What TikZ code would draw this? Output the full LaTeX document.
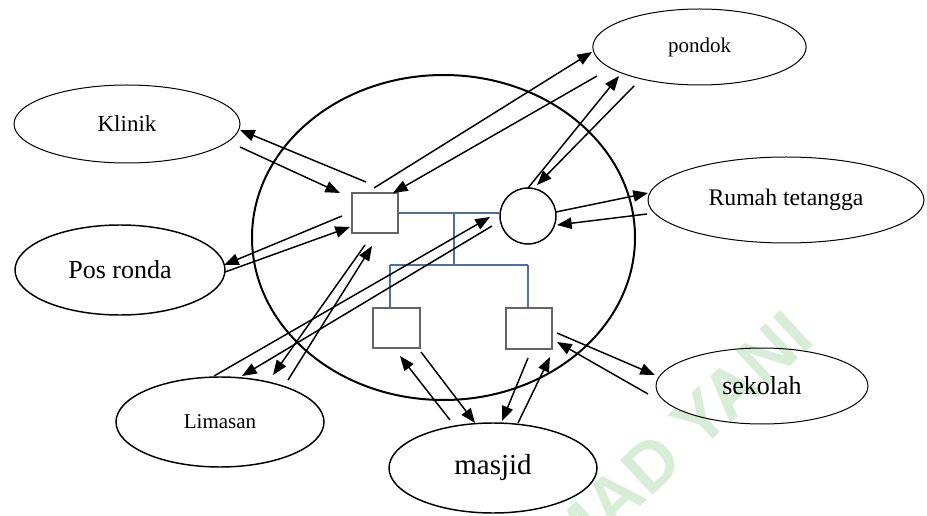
\documentclass[tikz,border=0pt]{standalone}
\usepackage{fontspec}
\setmainfont{Liberation Serif}
\newfontfamily\wmfont{Liberation Sans}
\usetikzlibrary{arrows.meta,calc,shapes.geometric}
\definecolor{linkblue}{RGB}{79,109,166}
\definecolor{boxgray}{RGB}{100,100,100}
\definecolor{wmgreen}{RGB}{214,237,214}
\begin{document}
\begin{tikzpicture}[x=0.75pt,y=-0.75pt,
  place/.style={draw,ellipse,inner sep=0pt,line width=0.75pt},
  placebold/.style={place,line width=1.1pt},
  person/.style={draw=boxgray,rectangle,inner sep=0pt,line width=1.1pt,minimum width=34.5pt,minimum height=30pt},
  arr/.style={line width=1.1pt,-{Triangle[length=11pt,width=8.5pt]}},
  link/.style={draw=linkblue,line width=0.8pt}
]
\useasboundingbox (0,0) rectangle (927,516);
\begin{scope}
\clip (0,0) rectangle (927,516);
\node[text=wmgreen,font=\wmfont\bfseries\fontsize{52}{52}\selectfont,rotate=43,inner sep=0pt] (wmark) at (677,440) {MAD YANI};
\end{scope}

% big household ellipse
\node[draw,ellipse,inner sep=0pt,line width=1.5pt,minimum width=287.25pt,minimum height=243.75pt] (home) at (443.5,237.5) {};

% outer places
\node[place,minimum width=169.5pt,minimum height=58.5pt,font=\fontsize{17.25}{20}\selectfont] (klinik) at (127,124) {Klinik};
\node[place,minimum width=160pt,minimum height=57pt,font=\fontsize{15.75}{18}\selectfont] (pondok) at (699.5,47) {pondok};
\node[place,minimum width=207pt,minimum height=64.5pt,font=\fontsize{17.8}{20}\selectfont] (rumah) at (786,200) {Rumah tetangga};
\node[placebold,minimum width=157.5pt,minimum height=67.5pt,font=\fontsize{19.5}{22}\selectfont] (pos) at (120,270) {Pos ronda};
\node[placebold,minimum width=156pt,minimum height=67.5pt,font=\fontsize{15.75}{18}\selectfont] (limasan) at (220,422) {Limasan};
\node[placebold,minimum width=156pt,minimum height=67.5pt,font=\fontsize{21.75}{24}\selectfont] (masjid) at (493,468) {masjid};
\node[place,minimum width=159pt,minimum height=57pt,font=\fontsize{19.5}{22}\selectfont] (sekolah) at (762,386) {sekolah};

% family members
\node[person] (sqA) at (375,213) {};
\node[draw,circle,inner sep=0pt,line width=1.1pt,minimum size=42pt] (circ) at (528,216) {};
\node[person,minimum width=35.25pt] (sqB) at (396.5,328) {};
\node[person,minimum height=30.75pt] (sqC) at (529,328.5) {};

% kinship lines
\coordinate (j1) at (454,213);
\coordinate (j2) at (454,265);
\coordinate (jl) at (390,265);
\coordinate (jr) at (528,265);
\draw[link] (sqA.east) -- (sqA.east -| circ.west);
\draw[link] (j1) -- (j2);
\draw[link] (jl) -- (jr);
\draw[link] (jl) -- (jl |- sqB.north);
\draw[link] (jr) -- (jr |- sqC.north);

% Klinik
\draw[arr] ($(sqA)+(-9,-31)$) -- ($(klinik)+(113,6)$);
\draw[arr] ($(klinik)+(113,23)$) -- ($(sqA)+(-35,-20)$);
% pondok
\draw[arr] ($(sqA)+(-1,-25)$) -- ($(pondok)+(-107.5,5)$);
\draw[arr] ($(pondok)+(-102.5,29)$) -- ($(sqA)+(18,-20)$);
\draw[arr] ($(circ)+(0,-28)$) -- ($(pondok)+(-80.5,29)$);
\draw[arr] ($(pondok)+(-65.5,39)$) -- ($(circ)+(9,-31)$);
% Rumah tetangga
\draw[arr] ($(circ)+(28,-4)$) -- ($(rumah)+(-138,-7)$);
\draw[arr] ($(rumah)+(-139,14)$) -- ($(circ)+(29,9)$);
% Pos ronda
\draw[arr] ($(sqA)+(-33,3)$) -- ($(pos)+(104,-5)$);
\draw[arr] ($(pos)+(105,2)$) -- ($(sqA)+(-25,14)$);
% Limasan
\draw[arr] ($(limasan)+(-6,-46)$) -- ($(circ)+(-38,1)$);
\draw[arr] ($(circ)+(-36,10)$) -- ($(limasan)+(22,-46)$);
\draw[arr] ($(sqA)+(-10,32)$) -- ($(limasan)+(53,-47)$);
\draw[arr] ($(limasan)+(68,-42)$) -- ($(sqA)+(-3,33)$);
% masjid
\draw[arr] ($(masjid)+(-43,-48)$) -- ($(sqB)+(3.5,28)$);
\draw[arr] ($(sqB)+(24.5,24)$) -- ($(masjid)+(-18,-45)$);
\draw[arr] ($(sqC)+(-1,29.5)$) -- ($(masjid)+(9,-47)$);
\draw[arr] ($(masjid)+(25,-45)$) -- ($(sqC)+(21,28.5)$);
% sekolah
\draw[arr] ($(sqC)+(28,4.5)$) -- ($(sekolah)+(-107,-11)$);
\draw[arr] ($(sekolah)+(-114,8)$) -- ($(sqC)+(28,13.5)$);
\end{tikzpicture}
\end{document}
